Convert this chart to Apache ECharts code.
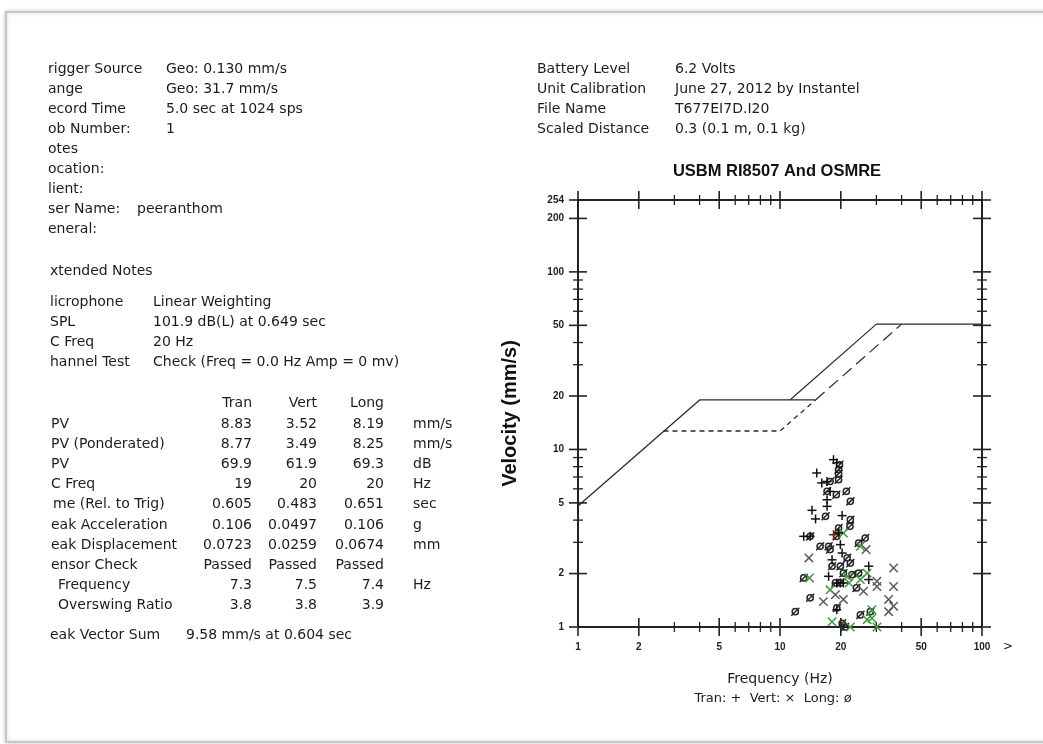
<!DOCTYPE html>
<html>
<head>
<meta charset="utf-8">
<title>USBM RI8507 And OSMRE</title>
<script src="https://cdn.jsdelivr.net/npm/echarts@6/dist/echarts.min.js"></script>
<style>
  html, body { margin: 0; padding: 0; background: #fff; }
  #main { width: 1043px; height: 744px; }
</style>
</head>
<body>
<div id="main"></div>
<script>
// ---- Event summary text ----
const eventInfo = [
  ['rigger Source', 'Geo: 0.130 mm/s'],
  ['ange', 'Geo: 31.7 mm/s'],
  ['ecord Time', '5.0 sec at 1024 sps'],
  ['ob Number:', '1'],
  ['otes', ''],
  ['ocation:', ''],
  ['lient:', ''],
  ['ser Name:', 'peeranthom'],
  ['eneral:', '']
];
const micInfo = [
  ['licrophone', 'Linear Weighting'],
  ['SPL', '101.9 dB(L) at 0.649 sec'],
  ['C Freq', '20 Hz'],
  ['hannel Test', 'Check (Freq = 0.0 Hz Amp = 0 mv)']
];
const unitInfo = [
  ['Battery Level', '6.2 Volts'],
  ['Unit Calibration', 'June 27, 2012 by Instantel'],
  ['File Name', 'T677EI7D.I20'],
  ['Scaled Distance', '0.3 (0.1 m, 0.1 kg)']
];
const channelNames = ['Tran', 'Vert', 'Long'];
const channelRows = [
  ['PV', '8.83', '3.52', '8.19', 'mm/s'],
  ['PV (Ponderated)', '8.77', '3.49', '8.25', 'mm/s'],
  ['PV', '69.9', '61.9', '69.3', 'dB'],
  ['C Freq', '19', '20', '20', 'Hz'],
  ['me (Rel. to Trig)', '0.605', '0.483', '0.651', 'sec'],
  ['eak Acceleration', '0.106', '0.0497', '0.106', 'g'],
  ['eak Displacement', '0.0723', '0.0259', '0.0674', 'mm'],
  ['ensor Check', 'Passed', 'Passed', 'Passed', ''],
  ['  Frequency', '7.3', '7.5', '7.4', 'Hz'],
  ['  Overswing Ratio', '3.8', '3.8', '3.9', '']
];
const vectorSum = ['eak Vector Sum', '9.58 mm/s at 0.604 sec'];

// ---- Axis scales and ticks ----
const freqRange = [1, 100];
const velRange = [1, 254];
const freqLabels = [1, 2, 5, 10, 20, 50, 100];
const velLabels = [1, 2, 5, 10, 20, 50, 100, 200, 254];
const minorTicks = [3, 4, 6, 7, 8, 9, 30, 40, 60, 70, 80, 90];

// ---- Limit curves: [frequency Hz, velocity mm/s] ----
const drywallLimit = [[1, 4.8], [4, 19], [15, 19]];
const osmreLimit = [[11.2, 19], [30, 50.8], [100, 50.8]];
const plasterLimit = [[2.65, 12.7], [10, 12.7], [15, 19]];
const displacementLimit = [[15, 19], [40, 50.8]];

// ---- Zero-crossing frequency / peak velocity per channel ----
const tranPoints = [
  [18.4, 8.76], [19.1, 8.4], [15.2, 7.37], [16.1, 6.48], [17.1, 6.6], [17.7, 5.8],
  [17.1, 5.21], [17.1, 4.78], [14.4, 4.54], [15.0, 4.06], [20.3, 4.24], [13.1, 3.24],
  [14.1, 3.24], [19.5, 3.39], [19.9, 2.91], [20.3, 2.61], [18.1, 2.39], [27.5, 2.2],
  [27.5, 1.85], [17.4, 1.93], [19.1, 1.77], [19.9, 1.77], [20.6, 1.77], [19.1, 1.25]
];
const tranPeakPoints = [[18.4, 3.31]];
const vertPoints = [
  [13.9, 2.45], [16.4, 1.39], [18.8, 1.52], [20.6, 1.43], [26.7, 2.73], [25.9, 1.59],
  [30.2, 1.81], [30.2, 1.69], [36.5, 2.15], [36.5, 1.69], [34.5, 1.43], [36.5, 1.31],
  [34.5, 1.22]
];
const vertLowPoints = [
  [14.0, 1.89], [17.7, 1.62], [20.6, 3.38], [25.0, 2.85], [27.0, 2.01], [25.0, 1.85],
  [21.5, 1.93], [22.0, 1.77], [28.5, 1.25], [28.5, 1.12], [27.0, 1.1], [30.2, 1.0],
  [18.1, 1.07], [22.3, 1.0]
];
const longPoints = [
  [19.5, 7.7], [19.7, 8.2], [19.5, 7.3], [17.7, 6.6], [19.5, 6.75], [17.1, 5.81],
  [19.0, 5.56], [21.3, 5.81], [22.3, 5.1], [16.8, 4.2], [22.3, 4.02], [22.2, 3.69],
  [19.5, 3.61], [14.1, 3.24], [19.1, 3.24], [15.8, 2.85], [17.7, 2.73], [17.4, 2.85],
  [24.5, 2.97], [26.4, 3.17], [21.5, 2.45], [19.9, 2.2], [22.3, 2.29], [18.1, 2.2],
  [20.6, 2.01], [24.5, 2.01], [22.7, 1.97], [13.1, 1.89], [18.8, 1.77], [19.9, 1.77],
  [23.9, 1.66], [14.1, 1.46], [11.9, 1.22], [19.1, 1.28], [25.0, 1.17], [28.0, 1.22],
  [20.3, 1.05], [21.0, 1.0]
];

// ---- Drawing helpers ----
const BODY_FONT = '14px "DejaVu Sans", sans-serif';
const INK = '#1c1c1c';

function text(x, y, str, extra) {
  return {
    type: 'text', x: x, y: y, silent: true,
    style: Object.assign({
      text: str, font: BODY_FONT, fill: INK,
      align: 'left', verticalAlign: 'middle',
      textAlign: 'left', textVerticalAlign: 'middle'
    }, extra || {})
  };
}
function rightText(x, y, str) {
  return text(x, y, str, { align: 'right', textAlign: 'right' });
}

const graphics = [];
// page outline
graphics.push({
  type: 'rect', silent: true, z: -10,
  shape: { x: 6, y: 12, width: 1060, height: 730 },
  style: { fill: '#fff', stroke: '#c6c6c6', lineWidth: 2, shadowBlur: 4, shadowColor: 'rgba(0,0,0,0.18)' }
});
eventInfo.forEach((row, i) => {
  const y = 69 + i * 20;
  graphics.push(text(48, y, row[0]));
  if (row[1]) graphics.push(text(row[0] === 'ser Name:' ? 137 : 166, y, row[1]));
});
graphics.push(text(50, 271, 'xtended Notes'));
micInfo.forEach((row, i) => {
  const y = 302 + i * 20.2;
  graphics.push(text(50, y, row[0]));
  graphics.push(text(153, y, row[1]));
});
const colRight = [252, 317, 384];
channelNames.forEach((n, j) => graphics.push(rightText(colRight[j], 403, n)));
channelRows.forEach((row, i) => {
  const y = 424 + i * 20.2;
  const lx = row[0].startsWith('  ') ? 58 : (row[0].startsWith('me') ? 53 : 51);
  graphics.push(text(lx, y, row[0].trim()));
  for (let j = 0; j < 3; j++) graphics.push(rightText(colRight[j], y, row[j + 1]));
  if (row[4]) graphics.push(text(413, y, row[4]));
});
graphics.push(text(50, 635, vectorSum[0]));
graphics.push(text(186, 635, vectorSum[1]));
unitInfo.forEach((row, i) => {
  const y = 69 + i * 20;
  graphics.push(text(537, y, row[0]));
  graphics.push(text(675, y, row[1]));
});
graphics.push(text(777, 171, 'USBM RI8507 And OSMRE', {
  font: 'bold 16.5px "Liberation Sans", Arial, sans-serif', fill: '#111', align: 'center', textAlign: 'center'
}));
graphics.push(text(773, 699, 'Tran: +  Vert: \u00d7  Long: \u00f8', {
  font: '13px "DejaVu Sans", sans-serif', align: 'center', textAlign: 'center'
}));
graphics.push(text(1008, 647, '>', { font: '12px "DejaVu Sans", sans-serif', align: 'center', textAlign: 'center' }));

// frame, ticks and tick labels, positioned through the axis scales
function renderFrame(params, api) {
  const c = (x, y) => api.coord([x, y]);
  const kids = [];
  const ink = '#222';
  const seg = (x1, y1, x2, y2, w) => kids.push({
    type: 'line', shape: { x1: x1, y1: y1, x2: x2, y2: y2 }, style: { stroke: ink, lineWidth: w }
  });
  const bl = c(freqRange[0], velRange[0]);
  const tr = c(freqRange[1], velRange[1]);
  seg(bl[0], bl[1], tr[0], bl[1], 2);
  seg(bl[0], tr[1], tr[0], tr[1], 2);
  seg(bl[0], bl[1], bl[0], tr[1], 2);
  seg(tr[0], bl[1], tr[0], tr[1], 2);
  const lab = { font: 'bold 10px "Liberation Sans", Arial, sans-serif', fill: '#222' };
  freqLabels.forEach(v => {
    const p = c(v, velRange[0])[0];
    seg(p, bl[1] - 9, p, bl[1] + 9, 1.6);
    seg(p, tr[1] - 9, p, tr[1] + 9, 1.6);
    kids.push({ type: 'text', x: p, y: bl[1] + 20, style: Object.assign({
      text: String(v), align: 'center', verticalAlign: 'middle' }, lab) });
  });
  minorTicks.forEach(v => {
    const p = c(v, velRange[0])[0];
    seg(p, bl[1] - 5, p, bl[1] + 5, 1.3);
    seg(p, tr[1] - 5, p, tr[1] + 5, 1.3);
    const q = c(freqRange[0], v)[1];
    seg(bl[0] - 5, q, bl[0] + 5, q, 1.3);
    seg(tr[0] - 5, q, tr[0] + 5, q, 1.3);
  });
  velLabels.forEach(v => {
    const q = c(freqRange[0], v)[1];
    seg(bl[0] - 9, q, bl[0] + 9, q, 1.6);
    seg(tr[0] - 9, q, tr[0] + 9, q, 1.6);
    kids.push({ type: 'text', x: bl[0] - 14, y: q, style: Object.assign({
      text: String(v), align: 'right', verticalAlign: 'middle' }, lab) });
  });
  return { type: 'group', children: kids };
}

function markerSeries(name, data, shape, color) {
  return {
    type: 'custom', name: name, data: data, coordinateSystem: 'cartesian2d',
    encode: { x: 0, y: 1 }, silent: true, z: 4, clip: false,
    renderItem: function (params, api) {
      const p = api.coord([api.value(0), api.value(1)]);
      const st = { stroke: color, lineWidth: 1.5, fill: null };
      const ln = (x1, y1, x2, y2) => ({ type: 'line', shape: { x1: x1, y1: y1, x2: x2, y2: y2 }, style: st });
      let kids;
      if (shape === 'plus') {
        kids = [ln(p[0] - 4.5, p[1], p[0] + 4.5, p[1]), ln(p[0], p[1] - 4.5, p[0], p[1] + 4.5)];
      } else if (shape === 'cross') {
        kids = [ln(p[0] - 4.2, p[1] - 4.2, p[0] + 4.2, p[1] + 4.2), ln(p[0] - 4.2, p[1] + 4.2, p[0] + 4.2, p[1] - 4.2)];
      } else {
        kids = [
          { type: 'circle', shape: { cx: p[0], cy: p[1], r: 3.1 }, style: { stroke: color, lineWidth: 1.5, fill: null } },
          ln(p[0] - 4, p[1] + 4, p[0] + 4, p[1] - 4)
        ];
      }
      return { type: 'group', children: kids };
    }
  };
}

function limitSeries(name, data, dash, width) {
  return {
    type: 'line', name: name, data: data, showSymbol: false, symbol: 'none', silent: true, z: 3,
    lineStyle: { color: '#2a2a2a', width: width || 1.2, type: dash || 'solid' }
  };
}

const chart = echarts.init(document.getElementById('main'), null, { renderer: 'canvas' });
chart.setOption({
  animation: false,
  backgroundColor: '#fff',
  grid: { left: 578, top: 200, width: 404, height: 427 },
  xAxis: {
    type: 'log', logBase: 10, min: freqRange[0], max: freqRange[1],
    axisLine: { show: false }, axisTick: { show: false }, axisLabel: { show: false }, splitLine: { show: false },
    name: 'Frequency (Hz)', nameLocation: 'middle', nameGap: 45,
    nameTextStyle: { fontFamily: 'DejaVu Sans', fontSize: 14, color: INK }
  },
  yAxis: {
    type: 'log', logBase: 10, min: velRange[0], max: velRange[1],
    axisLine: { show: false }, axisTick: { show: false }, axisLabel: { show: false }, splitLine: { show: false },
    name: 'Velocity (mm/s)', nameLocation: 'middle', nameGap: 58,
    nameTextStyle: { fontFamily: 'Liberation Sans', fontWeight: 'bold', fontSize: 20, color: '#111' }
  },
  graphic: graphics,
  series: [
    { type: 'custom', name: 'frame', data: [[1, 1]], encode: { x: 0, y: 1 }, silent: true, z: 2, clip: false, renderItem: renderFrame },
    limitSeries('Drywall', drywallLimit, 'solid', 1.3),
    limitSeries('OSMRE', osmreLimit, 'solid', 1.2),
    limitSeries('Plaster', plasterLimit, [5, 4], 1.3),
    limitSeries('Displacement', displacementLimit, [12, 6], 1.2),
    markerSeries('Long', longPoints, 'slashO', '#262626'),
    markerSeries('Vert', vertPoints, 'cross', '#5a5a5a'),
    markerSeries('Vert ', vertLowPoints, 'cross', '#3f9a3f'),
    markerSeries('Tran', tranPoints, 'plus', '#111'),
    markerSeries('Tran ', tranPeakPoints, 'plus', '#7a1c1c')
  ]
});
</script>
</body>
</html>
